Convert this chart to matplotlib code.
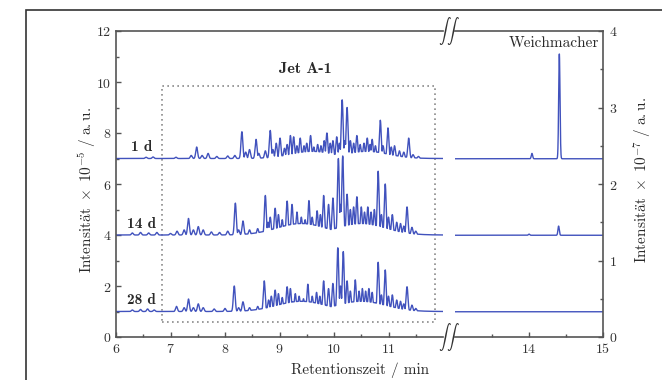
import numpy as np
import matplotlib
matplotlib.use("Agg")
import matplotlib.pyplot as plt
from matplotlib.patches import Rectangle

plt.rcParams["mathtext.fontset"] = "cm"

# peak apexes (retention time / min, height above baseline)
base_left = [7.0, 4.0, 1.0]
day_labels = ["1 d", "14 d", "28 d"]

rt_1d = [6.55, 6.68, 7.10, 7.38, 7.48, 7.58, 7.69, 7.85, 8.05, 8.18, 8.31, 8.38, 8.45, 8.57, 8.62,
         8.74, 8.83, 8.88, 8.94, 9.01, 9.09, 9.14, 9.20, 9.26, 9.32, 9.38, 9.45, 9.50, 9.57, 9.63,
         9.70, 9.76, 9.82, 9.87, 9.93, 9.98, 10.05, 10.10, 10.15, 10.20, 10.24, 10.30, 10.36, 10.42,
         10.48, 10.55, 10.61, 10.66, 10.70, 10.76, 10.85, 10.90, 10.99, 11.05, 11.11, 11.20, 11.28,
         11.37, 11.45, 11.55]
h_1d = [0.05, 0.06, 0.05, 0.12, 0.45, 0.12, 0.20, 0.08, 0.10, 0.12, 1.05, 0.25, 0.35, 0.75, 0.20,
        0.30, 1.10, 0.35, 0.60, 0.80, 0.40, 0.55, 0.90, 0.85, 0.50, 0.80, 0.50, 0.60, 0.90, 0.45,
        0.55, 0.50, 0.70, 1.00, 0.60, 0.70, 0.85, 0.60, 2.30, 0.70, 2.00, 0.70, 0.60, 0.90,
        0.55, 0.60, 0.80, 0.55, 0.75, 0.50, 1.50, 0.50, 1.20, 0.45, 0.50, 0.30, 0.25,
        0.80, 0.15, 0.08]

rt_14d = [6.30, 6.45, 6.60, 6.75, 7.00, 7.12, 7.25, 7.33, 7.42, 7.51, 7.60, 7.75, 7.90, 8.05, 8.19,
          8.25, 8.33, 8.45, 8.60, 8.74, 8.79, 8.83, 8.92, 8.98, 9.05, 9.14, 9.23, 9.32, 9.40, 9.47,
          9.54, 9.60, 9.69, 9.75, 9.81, 9.90, 9.98, 10.08, 10.12, 10.16, 10.24, 10.30, 10.36, 10.42,
          10.50, 10.56, 10.62, 10.68, 10.74, 10.81, 10.87, 10.94, 11.00, 11.07, 11.15, 11.22, 11.28,
          11.34, 11.43, 11.50]
h_14d = [0.08, 0.10, 0.08, 0.10, 0.06, 0.15, 0.20, 0.65, 0.20, 0.33, 0.20, 0.12, 0.10, 0.15, 1.25,
         0.20, 0.55, 0.20, 0.25, 1.55, 0.50, 0.70, 1.05, 0.80, 0.60, 1.33, 1.20, 0.90, 0.70, 0.60,
         1.35, 0.70, 0.95, 0.80, 1.55, 1.20, 1.45, 3.00, 1.20, 3.10, 1.60, 1.00, 1.10, 1.50,
         1.10, 0.90, 1.10, 0.90, 1.00, 2.50, 0.80, 2.00, 0.70, 0.80, 0.50, 0.45, 0.35,
         1.10, 0.30, 0.15]

rt_28d = [6.30, 6.45, 6.58, 6.70, 7.11, 7.25, 7.33, 7.42, 7.51, 7.60, 7.80, 8.00, 8.17, 8.25, 8.33,
          8.45, 8.60, 8.72, 8.80, 8.85, 8.92, 8.98, 9.05, 9.14, 9.20, 9.29, 9.36, 9.44, 9.52, 9.60,
          9.68, 9.74, 9.81, 9.90, 9.98, 10.07, 10.12, 10.17, 10.24, 10.30, 10.39, 10.46, 10.52,
          10.58, 10.64, 10.70, 10.81, 10.87, 10.94, 11.00, 11.07, 11.15, 11.22, 11.28, 11.34,
          11.43, 11.50]
h_28d = [0.06, 0.08, 0.10, 0.06, 0.20, 0.15, 0.49, 0.15, 0.30, 0.15, 0.10, 0.12, 1.00, 0.15, 0.38,
         0.15, 0.20, 1.20, 0.45, 0.60, 0.84, 0.70, 0.55, 0.97, 0.90, 0.70, 0.60, 0.50, 1.07, 0.60,
         0.75, 0.60, 1.20, 0.90, 1.10, 2.50, 1.00, 2.35, 1.20, 0.80, 1.24, 0.80, 0.90,
         0.80, 0.90, 0.75, 1.93, 0.65, 1.63, 0.60, 0.65, 0.45, 0.40, 0.30, 0.97,
         0.25, 0.12]

# unresolved hump under the dense region (centre, height, width)
hump_1d = [(9.6, 0.28, 0.40), (10.6, 0.28, 0.40)]
hump_14d = [(9.4, 0.45, 0.45), (10.5, 0.45, 0.45)]
hump_28d = [(9.4, 0.40, 0.45), (10.5, 0.40, 0.45)]

# right part (plasticizer region), right axis units
base_right = [2.33, 1.33, 0.33]
rt_right_1d = [14.04, 14.41]
h_right_1d = [0.07, 1.37]
rt_right_14d = [14.00, 14.40]
h_right_14d = [0.015, 0.12]
rt_right_28d = []
h_right_28d = []

blue = "#4152bd"
spine_c = "#555555"
txt_c = "#2a2a2a"


def trace(x, rts, hs, humps, w):
    y = np.zeros_like(x)
    for c, h, s in humps:
        y = np.maximum(y, h * np.exp(-0.5 * ((x - c) / s) ** 2))
    for c, h in zip(rts, hs):
        y = np.maximum(y, h * np.exp(-0.5 * ((x - c) / w) ** 2))
    return y


fig = plt.figure(figsize=(6.62, 3.8), dpi=100)
fig.patches.append(Rectangle((26 / 662, -0.1), 1.0, 1.1 - 10 / 380, transform=fig.transFigure,
                             fill=False, ec="#333333", lw=1.2))

ax1 = fig.add_axes([116 / 662, 43 / 380, 327 / 662, 306 / 380])
ax2 = fig.add_axes([455 / 662, 43 / 380, 148 / 662, 306 / 380])

x1 = np.linspace(6, 12, 4000)
left_sets = [(rt_1d, h_1d, hump_1d), (rt_14d, h_14d, hump_14d), (rt_28d, h_28d, hump_28d)]
for b, (rts, hs, humps) in zip(base_left, left_sets):
    ax1.plot(x1, b + trace(x1, rts, hs, humps, 0.017), color=blue, lw=1.0)

x2 = np.linspace(13, 15, 2000)
right_sets = [(rt_right_1d, h_right_1d), (rt_right_14d, h_right_14d), (rt_right_28d, h_right_28d)]
for b, (rts, hs) in zip(base_right, right_sets):
    ax2.plot(x2, b + trace(x2, rts, hs, [], 0.009), color=blue, lw=1.0)

# dotted box around the Jet A-1 region
ax1.add_patch(Rectangle((6.85, 0.6), 5.0, 9.25, fill=False, ec="#8a8a8a", ls=(0, (1, 2)), lw=1.2))
ax1.text(9.47, 10.5, "Jet A-1", ha="center", va="center", fontsize=11.5, color=txt_c,
         fontfamily="cmb10")

for b, lab in zip(base_left, day_labels):
    ax1.text(6.47, b + 0.45, lab, ha="center", va="center", fontsize=11, color=txt_c,
             fontfamily="cmb10")

ax2.text(14.95, 3.84, "Weichmacher", ha="right", va="center", fontsize=11, color=txt_c,
         fontfamily="cmr10")

ax1.set_xlim(6, 12)
ax1.set_ylim(0, 12)
ax2.set_xlim(13, 15)
ax2.set_ylim(0, 4)

ax1.spines["right"].set_visible(False)
ax2.spines["left"].set_visible(False)
ax2.yaxis.tick_right()
for ax in (ax1, ax2):
    for s in ax.spines.values():
        s.set_color(spine_c)
        s.set_linewidth(1.2)
    ax.tick_params(which="both", direction="in", color=spine_c, labelcolor="#333333", labelsize=10)
    ax.tick_params(which="major", length=3.5, width=1)
    ax.tick_params(which="minor", length=2.5, width=1)

ax1.set_xticks([6, 7, 8, 9, 10, 11])
ax1.set_xticklabels([f"${v}$" for v in [6, 7, 8, 9, 10, 11]])
ax1.set_xticks([6.5, 7.5, 8.5, 9.5, 10.5, 11.5], minor=True)
ax1.set_yticks([0, 2, 4, 6, 8, 10, 12])
ax1.set_yticklabels([f"${v}$" for v in [0, 2, 4, 6, 8, 10, 12]])
ax1.set_yticks([1, 3, 5, 7, 9, 11], minor=True)
ax1.tick_params(axis="y", which="both", right=False)

ax2.set_xticks([14, 15])
ax2.set_xticklabels(["$14$", "$15$"])
ax2.set_xticks([13.5, 14.5], minor=True)
ax2.set_yticks([0, 1, 2, 3, 4])
ax2.set_yticklabels([f"${v}$" for v in [0, 1, 2, 3, 4]])
ax2.set_yticks([0.5, 1.5, 2.5, 3.5], minor=True)
ax2.tick_params(axis="y", which="both", left=False, right=True, pad=4)

# axis break marks
for yb in (1 - 31 / 380, 1 - 337 / 380):
    fig.text(449 / 662, yb, r"$\int\,\int$", ha="center", va="center", fontsize=9, color="#333333")

fig.text(360 / 662, 1 - 370 / 380, "Retentionszeit / min", ha="center", va="center",
         fontsize=11, color=txt_c, fontfamily="cmr10")
fig.text(87 / 662, 1 - 190 / 380, r"$\mathrm{Intensit\ddot{a}t}\ \times\ 10^{-5}\ /\ \mathrm{a.u.}$",
         ha="center", va="center", rotation=90, fontsize=11, color=txt_c)
fig.text(643 / 662, 1 - 180 / 380, r"$\mathrm{Intensit\ddot{a}t}\ \times\ 10^{-7}\ /\ \mathrm{a.u.}$",
         ha="center", va="center", rotation=90, fontsize=11, color=txt_c)

fig.savefig("out.png", dpi=100)
